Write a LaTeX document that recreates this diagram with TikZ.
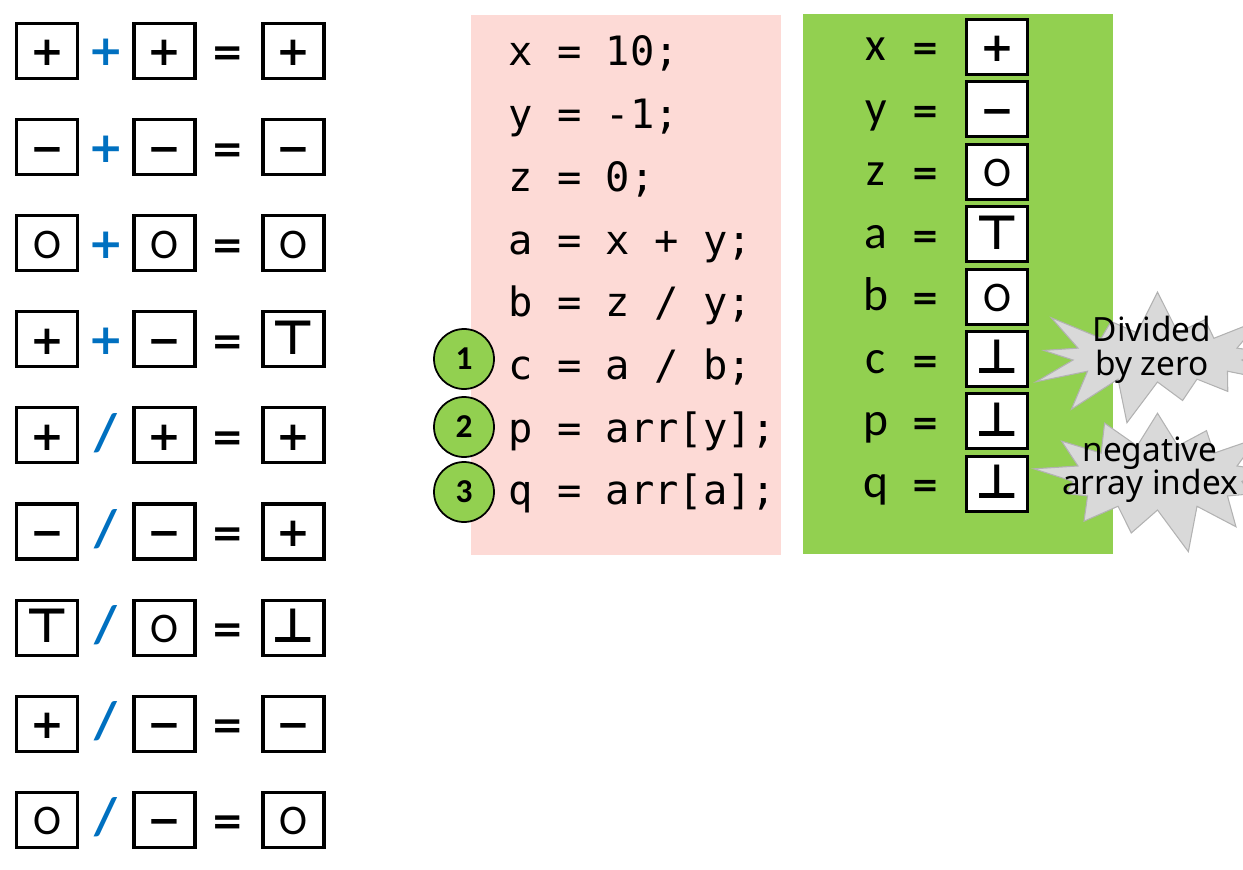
\documentclass[tikz,border=0pt]{standalone}
\usepackage{fontspec}
\setmainfont{Carlito}
\setmonofont{DejaVu Sans Mono}
\newfontfamily\symfont{DejaVu Sans}
\newfontfamily\burstfont{Noto Sans}
\usetikzlibrary{positioning, shapes.symbols}

\definecolor{codepink}{HTML}{FDDAD6}
\definecolor{valgreen}{HTML}{92D050}
\definecolor{opblue}{HTML}{0070C0}

% abstract values
\newcommand{\valP}{{\symfont\bfseries\fontsize{23}{25}\selectfont +}}
\newcommand{\valN}{{\symfont\bfseries\fontsize{23}{25}\selectfont −}}
\newcommand{\valZ}{{\mdseries\fontsize{24}{26}\selectfont O}}
\newcommand{\valT}{{\symfont\bfseries\fontsize{27}{29}\selectfont ⊤}}
\newcommand{\valB}{{\symfont\bfseries\fontsize{27}{29}\selectfont ⊥}}
\newcommand{\opadd}{{\symfont\bfseries\fontsize{24}{26}\selectfont +}}
\newcommand{\opdiv}{/}

\begin{document}
\begin{tikzpicture}[
  val/.style={rectangle, draw, line width=1.8pt, fill=white, minimum width=1.22cm, minimum height=1.1cm, inner sep=0pt, text height=17pt, text depth=0pt},
  op/.style={inner sep=0pt, text height=17pt, text depth=0pt, text=opblue, font=\fontsize{30}{32}\selectfont\bfseries},
  eqsign/.style={inner sep=0pt, text height=17pt, text depth=0pt, font=\symfont\fontsize{22}{24}\selectfont\bfseries},
  panel/.style={rectangle, anchor=north west, inner sep=0pt, minimum width=6.2cm, minimum height=10.8cm},
  codeline/.style={anchor=base west, inner sep=0pt, font=\ttfamily\fontsize{23}{25}\selectfont},
  varname/.style={anchor=base, inner sep=0pt, font=\fontsize{27}{29}\selectfont},
  vareq/.style={anchor=base, inner sep=0pt, font=\symfont\fontsize{19}{21}\selectfont\bfseries},
  num/.style={circle, draw, line width=1pt, fill=valgreen, minimum size=1.2cm, inner sep=0pt, font=\fontsize{19}{20}\selectfont\bfseries},
  burst/.style={starburst, starburst points=13, starburst point height=0.9cm, fill=gray!30, draw=gray!60, line width=0.6pt, inner sep=0pt},
  bursttext/.style={align=center, inner sep=0pt, font=\burstfont\fontsize{19}{19}\selectfont}
]
  \useasboundingbox (0,0) rectangle (24.86,-17.38);

  % sign rules
  \foreach \i/\a/\o/\b/\r in {0/\valP/\opadd/\valP/\valP, 1/\valN/\opadd/\valN/\valN, 2/\valZ/\opadd/\valZ/\valZ,
      3/\valP/\opadd/\valN/\valT, 4/\valP/\opdiv/\valP/\valP, 5/\valN/\opdiv/\valN/\valP,
      6/\valT/\opdiv/\valZ/\valB, 7/\valP/\opdiv/\valN/\valN, 8/\valZ/\opdiv/\valN/\valZ} {
    \node[val] (a\i) at (0.94,-1.02-1.922*\i) {\a};
    \node[op] (o\i) at (2.12,-1.02-1.922*\i) {\o};
    \node[val] (b\i) at (3.29,-1.02-1.922*\i) {\b};
    \node[eqsign] (e\i) at (4.56,-1.02-1.922*\i) {=};
    \node[val] (r\i) at (5.87,-1.02-1.922*\i) {\r};
  }

  % program
  \node[panel, fill=codepink] (code) at (9.42,-0.3) {};
  \foreach \i/\t in {0/{x = 10;}, 1/{y = -1;}, 2/{z = 0;}, 3/{a = x + y;}, 4/{b = z / y;},
      5/{c = a / b;}, 6/{p = arr[y];}, 7/{q = arr[a];}} {
    \node[codeline] (l\i) at (10.16,-1.32-1.254*\i) {\t};
  }
  \node[num] (n1) at (9.28,-7.18) {1};
  \node[num] (n2) at (9.28,-8.54) {2};
  \node[num] (n3) at (9.28,-9.84) {3};

  % abstract state
  \node[panel, fill=valgreen] (vals) at (16.06,-0.28) {};
  \foreach \i/\v/\s in {0/x/\valP, 1/y/\valN, 2/z/\valZ, 3/a/\valT, 4/b/\valZ, 5/c/\valB, 6/p/\valB, 7/q/\valB} {
    \node[val] (v\i) at (19.94,-0.94-1.248*\i) {\s};
    \node[varname] (x\i) at (17.52,-1.22-1.248*\i) {\v};
    \node[vareq] (q\i) at (18.5,-1.2-1.248*\i) {=};
  }

  % alarms
  \node[burst, random starburst=40, minimum width=5.2cm, minimum height=2.8cm] (s1) at (23.15,-7.14) {};
  \node[bursttext] (t1) at (23.04,-7.0) {Divided\\by zero};
  \node[burst, random starburst=77, minimum width=5.2cm, minimum height=3.1cm] (s2) at (23.15,-9.55) {};
  \node[bursttext] (t2) at (23.0,-9.4) {negative\\array index};
\end{tikzpicture}
\end{document}
